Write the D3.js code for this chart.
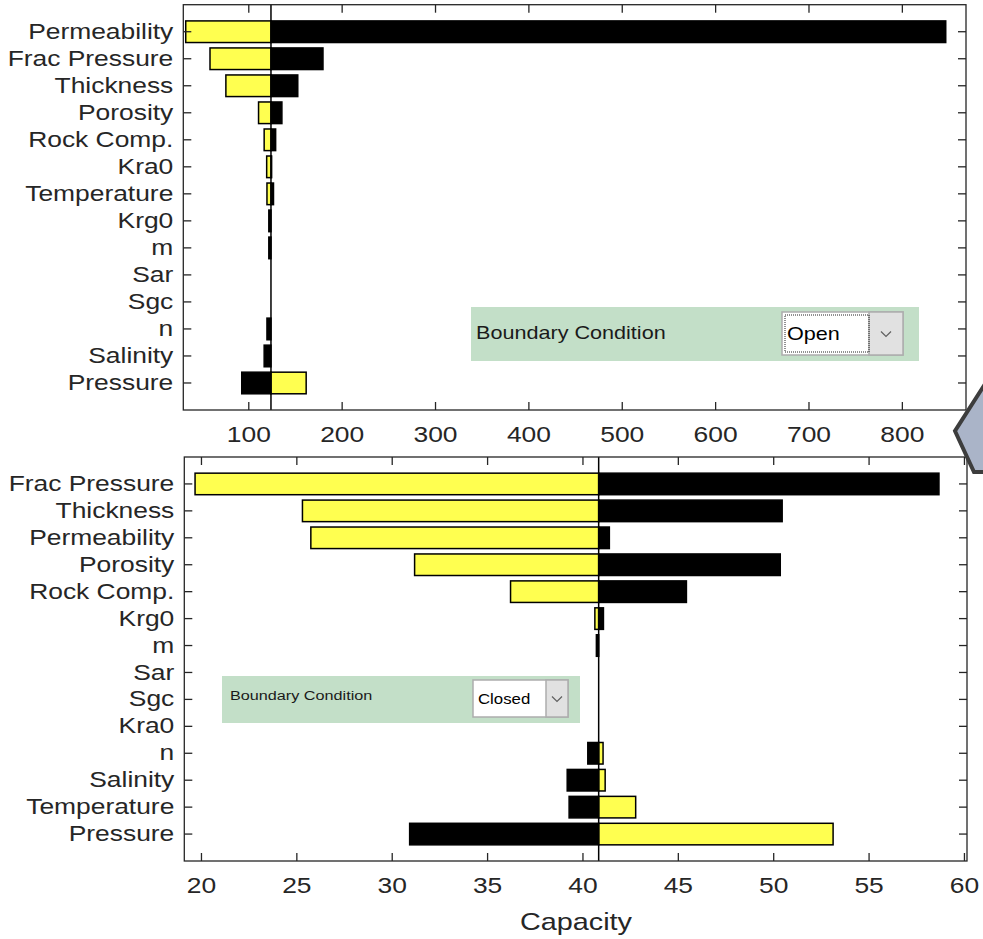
<!DOCTYPE html>
<html>
<head>
<meta charset="utf-8">
<script src="https://cdn.jsdelivr.net/npm/d3@7"></script>
<style>
  body { margin: 0; background: #fff; }
  text { font-family: "Liberation Sans", Arial, sans-serif; }
</style>
</head>
<body>
<div id="chart"></div>
<script>
// top panel: open boundary
var topCategories = ["Permeability", "Frac Pressure", "Thickness", "Porosity", "Rock Comp.", "Kra0",
  "Temperature", "Krg0", "m", "Sar", "Sgc", "n", "Salinity", "Pressure"];
var topLowCase  = [33, 59, 76, 111, 117, 119.7, 120, 124.3, 124.3, 124.3, 124.3, 124.3, 124.3, 162];
var topHighCase = [847, 180, 153, 136, 129.3, 125, 127, 122, 122, 124.3, 124.3, 120, 117, 93];
var topBase = 124.3;
var topLimits = [30.4, 868.7];
var topTicks = [100, 200, 300, 400, 500, 600, 700, 800];

// bottom panel: closed boundary
var bottomCategories = ["Frac Pressure", "Thickness", "Permeability", "Porosity", "Rock Comp.", "Krg0",
  "m", "Sar", "Sgc", "Kra0", "n", "Salinity", "Temperature", "Pressure"];
var bottomLowCase  = [19.69, 25.32, 25.76, 31.2, 36.23, 40.65, 40.85, 40.85, 40.85, 40.85, 41.08, 41.19, 42.79, 53.14];
var bottomHighCase = [58.69, 50.47, 41.41, 50.37, 45.45, 41.1, 40.73, 40.85, 40.85, 40.85, 40.28, 39.2, 39.3, 30.94];
var bottomBase = 40.85;
var bottomLimits = [19.126, 60.16];
var bottomTicks = [20, 25, 30, 35, 40, 45, 50, 55, 60];

var SX = 1.2;          // screenshot is a bit stretched sideways
var AXIS = "#262626";
var YELLOW = "#ffff50";

var svg = d3.select("#chart").append("svg").attr("width", 983).attr("height", 939);

function drawTornado(frame, cats, lowVals, highVals, base, limits, ticks) {
  var x = d3.scaleLinear().domain(limits).range([frame.x0, frame.x1]);
  var y = d3.scaleBand().domain(cats).range([frame.y0, frame.y1]).paddingInner(0.2).paddingOuter(0.6);
  var g = svg.append("g");

  // black bars first, yellow drawn over them
  [[highVals, "#000000"], [lowVals, YELLOW]].forEach(function (s) {
    g.selectAll(null).data(cats).enter().append("rect")
      .attr("x", function (d, i) { return Math.min(x(base), x(s[0][i])); })
      .attr("y", function (d) { return y(d); })
      .attr("width", function (d, i) { return Math.abs(x(s[0][i]) - x(base)); })
      .attr("height", y.bandwidth())
      .attr("fill", s[1])
      .attr("stroke", "#000")
      .attr("stroke-width", 1.5);
  });

  g.append("line")
    .attr("x1", x(base)).attr("x2", x(base))
    .attr("y1", frame.y0).attr("y2", frame.y1)
    .attr("stroke", "#000").attr("stroke-width", 1.5);

  var xb = g.append("g").attr("transform", "translate(0," + frame.y1 + ")")
    .call(d3.axisBottom(x).tickValues(ticks).tickSizeInner(-8).tickSizeOuter(0).tickPadding(16));
  var xt = g.append("g").attr("transform", "translate(0," + frame.y0 + ")")
    .call(d3.axisTop(x).tickValues(ticks).tickSizeInner(-8).tickSizeOuter(0).tickFormat(""));
  var yl = g.append("g").attr("transform", "translate(" + frame.x0 + ",0)")
    .call(d3.axisLeft(y).tickSizeInner(-8).tickSizeOuter(0));
  var yr = g.append("g").attr("transform", "translate(" + frame.x1 + ",0)")
    .call(d3.axisRight(y).tickSizeInner(-8).tickSizeOuter(0).tickFormat(""));

  [xb, xt, yl, yr].forEach(function (a) {
    a.select(".domain").remove();
    a.selectAll(".tick line").attr("stroke", AXIS).attr("stroke-width", 1.3);
  });
  xb.selectAll("text").attr("font-size", 22).attr("fill", AXIS)
    .attr("transform", "scale(" + SX + ",1)");
  yl.selectAll("text").attr("font-size", 22).attr("fill", AXIS)
    .attr("x", -10 / SX).attr("transform", "scale(" + SX + ",1)");

  g.append("rect")
    .attr("x", frame.x0).attr("y", frame.y0)
    .attr("width", frame.x1 - frame.x0).attr("height", frame.y1 - frame.y0)
    .attr("fill", "none").attr("stroke", AXIS).attr("stroke-width", 1.3);
}

function drawSelector(p) {
  var g = svg.append("g");
  g.append("rect").attr("x", p.x).attr("y", p.y).attr("width", p.w).attr("height", p.h).attr("fill", "#c3dfc8");
  g.append("text").attr("transform", "translate(" + (p.x + p.tx) + "," + p.ty + ") scale(" + SX + ",1)")
    .attr("font-size", p.fs).attr("fill", "#1a1a1a").text("Boundary Condition");

  g.append("rect").attr("x", p.bx).attr("y", p.by).attr("width", p.bw).attr("height", p.bh)
    .attr("fill", "#fff").attr("stroke", "#adadad").attr("stroke-width", 1.5);
  g.append("rect").attr("x", p.bx + p.bw - p.aw).attr("y", p.by).attr("width", p.aw).attr("height", p.bh)
    .attr("fill", "#e1e1e1").attr("stroke", "#adadad").attr("stroke-width", 1.5);
  if (p.focus) {
    g.append("rect").attr("x", p.bx + 3).attr("y", p.by + 3)
      .attr("width", p.bw - p.aw - 3).attr("height", p.bh - 6)
      .attr("fill", "none").attr("stroke", "#222").attr("stroke-dasharray", "1,1");
  }
  var cx = p.bx + p.bw - p.aw / 2, cy = p.by + p.bh / 2;
  g.append("polyline").attr("points", [[cx - 5, cy - 2], [cx, cy + 3], [cx + 5, cy - 2]].join(" "))
    .attr("fill", "none").attr("stroke", "#606060").attr("stroke-width", 1.2);
  g.append("text").attr("transform", "translate(" + (p.bx + 5) + "," + (p.by + p.bh / 2 + p.vfs * 0.36) + ") scale(" + SX + ",1)")
    .attr("font-size", p.vfs).attr("fill", "#000").text(p.value);
}

drawTornado({x0: 183.3, x1: 966, y0: 4.7, y1: 410}, topCategories, topLowCase, topHighCase, topBase, topLimits, topTicks);
drawTornado({x0: 184.3, x1: 967, y0: 457, y1: 861}, bottomCategories, bottomLowCase, bottomHighCase, bottomBase, bottomLimits, bottomTicks);

svg.append("text").attr("transform", "translate(576,930) scale(" + SX + ",1)")
  .attr("text-anchor", "middle").attr("font-size", 24).attr("fill", AXIS).text("Capacity");

drawSelector({x: 471, y: 307, w: 448, h: 54, tx: 5, ty: 338.5, fs: 18,
  bx: 782, by: 312, bw: 121, bh: 43, aw: 34, value: "Open", vfs: 18, focus: true});
drawSelector({x: 222, y: 676, w: 358, h: 47, tx: 8, ty: 700, fs: 13.5,
  bx: 473, by: 680, bw: 95, bh: 37, aw: 22, value: "Closed", vfs: 14, focus: false});

// corner of a grey callout cut off by the right edge
svg.append("polygon").attr("points", "985,384 955,431 974,472 985,472")
  .attr("fill", "#aab4c8").attr("stroke", "#3d3d3d").attr("stroke-width", 4);
</script>
</body>
</html>
